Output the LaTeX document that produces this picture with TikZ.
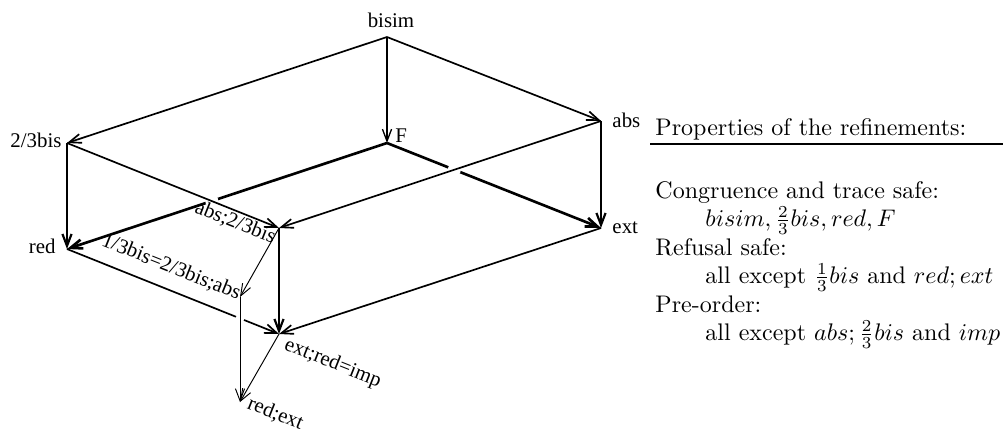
\documentclass[tikz,border=0pt]{standalone}
\usepackage{fontspec}
\newfontfamily\tms{Liberation Serif}
\usetikzlibrary{arrows.meta,intersections}
\begin{document}
\begin{tikzpicture}[x=0.4167pt,y=-0.4167pt,
  edge/.style={line width=0.7pt,-{Straight Barb[length=5pt,width=3.8pt]}},
  heavy/.style={edge,line width=1.1pt},
  semi/.style={edge,line width=0.9pt},
  light/.style={edge,line width=0.55pt},
  fine/.style={edge,line width=0.4pt},
  lbl/.style={font=\tms\fontsize{8.7}{10}\selectfont,inner sep=0pt},
  txt/.style={inner sep=0pt,anchor=base west}]
\useasboundingbox (0,0) rectangle (1003,429);
% vertices
\coordinate (bisim) at (387,37);
\coordinate (tb) at (67,143);
\coordinate (F) at (387,143);
\coordinate (abs) at (601,121);
\coordinate (red) at (67,249);
\coordinate (abstb) at (279,228);
\coordinate (ext) at (601,228);
\coordinate (imp) at (279,334);
\coordinate (ob) at (240,297);
\coordinate (redext) at (240,402);
% back edges
\draw[heavy,name path=Fred] (F) -- (red);
\draw[heavy,name path=Fext] (F) -- (ext);
\draw[edge,name path=redimp] (red) -- (imp);
% gaps
\path[name path=tbab] (tb) -- (abstb);
\path[name path=absab] (abs) -- (abstb);
\path[name path=obre] (ob) -- (redext);
\fill[white,name intersections={of=Fred and tbab,by=g1}] (g1) circle (6.5);
\fill[white,name intersections={of=Fext and absab,by=g2}] (g2) circle (6.5);
\fill[white,name intersections={of=redimp and obre,by=g3}] (g3) circle (4.5);
% front edges
\draw[edge] (bisim) -- (tb);
\draw[light] (bisim) -- (F);
\draw[edge] (bisim) -- (abs);
\draw[semi] (tb) -- (red);
\draw[edge] (tb) -- (abstb);
\draw[semi] (abs) -- (ext);
\draw[edge] (abs) -- (abstb);
\draw[semi] (abstb) -- (imp);
\draw[edge] (ext) -- (imp);
\draw[fine] (abstb) -- (ob);
\draw[fine] (ob) -- (redext);
\draw[fine] (imp) -- (redext);
% labels
\node[lbl,anchor=base] (Lbisim) at (391,27) {bisim};
\node[lbl,anchor=base west] (LF) at (395,142) {F};
\node[lbl,anchor=base east] (Ltb) at (62,147) {2/3bis};
\node[lbl,anchor=base west] (Labs) at (612,127) {abs};
\node[lbl,anchor=base west] (Lext) at (612,233) {ext};
\node[lbl,anchor=base east] (Lred) at (56,253) {red};
\node[lbl,anchor=base east,rotate=-21.8] (Labstb) at (273,244) {abs;2/3bis};
\node[lbl,anchor=base east,rotate=-21.8] (Lob) at (238,300) {1/3bis=2/3bis;abs};
\node[lbl,anchor=base west,rotate=-21.8] (Limp) at (283,349) {ext;red=imp};
\node[lbl,anchor=base west,rotate=-21.8] (Lredext) at (246,408) {red;ext};
% properties
\node[txt] (head) at (655,135) {Properties of the refinements:};
\coordinate (ul1) at (650,144);
\coordinate (ul2) at (1003,144);
\draw[line width=0.8pt] (ul1) -- (ul2);
\node[txt] (p1) at (655,198) {Congruence and trace safe:};
\node[txt] (p2) at (705,226.5) {$bisim, \frac{2}{3}bis, red, F$};
\node[txt] (p3) at (655,255) {Refusal safe:};
\node[txt] (p4) at (705,283.5) {all except $\frac{1}{3}bis$ and $red;ext$};
\node[txt] (p5) at (655,312) {Pre-order:};
\node[txt] (p6) at (705,340.5) {all except $abs;\frac{2}{3}bis$ and $imp$};
\end{tikzpicture}
\end{document}
